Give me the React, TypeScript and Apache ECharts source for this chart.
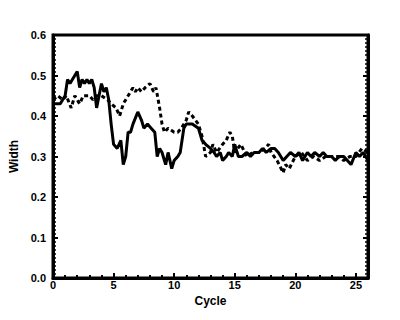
import React, { useEffect, useRef } from "react";
import * as echarts from "echarts";

const xTicks = [0, 5, 10, 15, 20, 25];
const yTicks = [0.0, 0.1, 0.2, 0.3, 0.4, 0.5, 0.6];

const solidSeries: [number, number][] = [
  [0, 0.43], [0.3, 0.43], [0.6, 0.43], [0.8, 0.44], [1.0, 0.45], [1.2, 0.49], [1.4, 0.48],
  [1.6, 0.49], [1.8, 0.50], [2.0, 0.51], [2.2, 0.47], [2.4, 0.49], [2.6, 0.48], [2.8, 0.49],
  [3.0, 0.48], [3.2, 0.49], [3.4, 0.47], [3.6, 0.42], [3.8, 0.45], [4.0, 0.48], [4.2, 0.46],
  [4.4, 0.47], [4.6, 0.44], [4.8, 0.38], [5.0, 0.33], [5.3, 0.32], [5.6, 0.34], [5.8, 0.28],
  [6.0, 0.30], [6.2, 0.36], [6.4, 0.36], [6.6, 0.38], [7.0, 0.41], [7.3, 0.39], [7.5, 0.37],
  [7.8, 0.38], [8.1, 0.37], [8.4, 0.36], [8.6, 0.30], [8.8, 0.32], [9.0, 0.31], [9.3, 0.28],
  [9.5, 0.31], [9.8, 0.27], [10.0, 0.29], [10.3, 0.30], [10.5, 0.31], [10.8, 0.37], [11.0, 0.38],
  [11.5, 0.38], [12.0, 0.37], [12.3, 0.34], [12.6, 0.33], [13.0, 0.32], [13.3, 0.31], [13.5, 0.30],
  [13.8, 0.31], [14.0, 0.29], [14.3, 0.30], [14.5, 0.31], [14.8, 0.30], [15.0, 0.33], [15.3, 0.30],
  [15.6, 0.30], [16.0, 0.31], [16.3, 0.30], [16.6, 0.31], [17.0, 0.31], [17.3, 0.32], [17.6, 0.31],
  [18.0, 0.32], [18.3, 0.32], [18.6, 0.31], [19.0, 0.29], [19.3, 0.30], [19.6, 0.31], [20.0, 0.30],
  [20.3, 0.31], [20.6, 0.29], [21.0, 0.31], [21.3, 0.30], [21.6, 0.31], [22.0, 0.30], [22.3, 0.31],
  [22.6, 0.30], [23.0, 0.30], [23.3, 0.29], [23.6, 0.30], [24.0, 0.30], [24.3, 0.29], [24.6, 0.28],
  [25.0, 0.31], [25.3, 0.30], [25.6, 0.31], [26.0, 0.29]
];

const dashedSeries: [number, number][] = [
  [0, 0.44], [0.4, 0.45], [0.8, 0.44], [1.1, 0.45], [1.5, 0.42], [1.8, 0.45], [2.2, 0.43],
  [2.5, 0.45], [3.0, 0.45], [3.3, 0.44], [3.6, 0.45], [4.0, 0.45], [4.5, 0.44], [4.8, 0.43],
  [5.2, 0.42], [5.5, 0.40], [5.8, 0.43], [6.2, 0.45], [6.6, 0.47], [6.8, 0.46], [7.0, 0.47],
  [7.3, 0.46], [7.6, 0.47], [8.0, 0.48], [8.3, 0.46], [8.5, 0.47], [8.8, 0.42], [9.0, 0.38],
  [9.2, 0.36], [9.5, 0.37], [10.0, 0.36], [10.3, 0.36], [10.6, 0.37], [11.0, 0.39], [11.2, 0.41],
  [11.5, 0.40], [12.0, 0.38], [12.3, 0.35], [12.6, 0.30], [13.0, 0.31], [13.2, 0.33], [13.5, 0.31],
  [14.0, 0.33], [14.3, 0.34], [14.6, 0.36], [14.8, 0.35], [15.0, 0.31], [15.5, 0.33], [16.0, 0.30],
  [16.5, 0.31], [17.0, 0.31], [17.5, 0.32], [17.8, 0.33], [18.0, 0.31], [18.5, 0.29], [19.0, 0.26],
  [19.2, 0.28], [19.5, 0.27], [20.0, 0.30], [20.5, 0.31], [21.0, 0.29], [21.5, 0.30], [22.0, 0.29],
  [22.5, 0.30], [23.0, 0.30], [23.5, 0.30], [24.0, 0.29], [24.5, 0.30], [25.0, 0.30], [25.5, 0.32],
  [26.0, 0.31]
];

export default function App() {
  const ref = useRef<HTMLDivElement>(null);
  useEffect(() => {
    if (!ref.current) return;
    const chart = echarts.init(ref.current, null, { renderer: "svg" });
    const font = "Liberation Sans, Arial, Helvetica, sans-serif";
    chart.setOption({
      animation: false,
      grid: {
        left: 45, right: 24, top: 27, bottom: 34,
        outerBoundsMode: "none", containLabel: false,
        show: true, borderColor: "#000", borderWidth: 3, backgroundColor: "transparent"
      },
      xAxis: {
        type: "value", min: 0, max: 26, interval: 5,
        name: "Cycle", nameLocation: "middle", nameGap: 13,
        nameTextStyle: { fontFamily: font, fontWeight: "bold", fontSize: 12, color: "#000" },
        axisLine: { show: true, lineStyle: { color: "#000", width: 3 } },
        axisTick: { show: true, inside: true, length: 5, lineStyle: { color: "#000", width: 2 } },
        minorTick: { show: true, splitNumber: 5, length: 3, lineStyle: { color: "#000", width: 2 } },
        axisLabel: {
          fontFamily: font, fontWeight: "bold", fontSize: 11, color: "#000", margin: 1,
          formatter: (v: number) => (xTicks.includes(v) ? String(v) : "")
        },
        splitLine: { show: false }
      },
      yAxis: [
        {
          type: "value", min: 0, max: 0.6, interval: 0.1,
          name: "Width", nameLocation: "middle", nameGap: 29,
          nameTextStyle: { fontFamily: font, fontWeight: "bold", fontSize: 12, color: "#000" },
          axisLine: { show: true, lineStyle: { color: "#000", width: 3 } },
          axisTick: { show: true, inside: true, length: 5, lineStyle: { color: "#000", width: 2 } },
          minorTick: { show: true, splitNumber: 10, length: 3, lineStyle: { color: "#000", width: 1.5 } },
          axisLabel: {
            fontFamily: font, fontWeight: "bold", fontSize: 11, color: "#000", margin: 7,
            formatter: (v: number) => {
              const t = yTicks.find((k) => Math.abs(k - v) < 1e-9);
              return t === undefined ? "" : t.toFixed(1);
            }
          },
          splitLine: { show: false }
        },
        {
          type: "value", min: 0, max: 0.6, interval: 0.1, position: "right",
          axisLine: { show: true, lineStyle: { color: "#000", width: 3 } },
          axisTick: { show: true, inside: true, length: 5, lineStyle: { color: "#000", width: 2 } },
          minorTick: { show: true, splitNumber: 10, length: 3, lineStyle: { color: "#000", width: 1.5 } },
          axisLabel: { show: false },
          splitLine: { show: false }
        }
      ],
      series: [
        {
          type: "line", data: dashedSeries, showSymbol: false, symbol: "none",
          lineStyle: { color: "#000", width: 3, type: [4, 3] }
        },
        {
          type: "line", data: solidSeries, showSymbol: false, symbol: "none",
          lineStyle: { color: "#000", width: 3 }
        }
      ]
    });
    return () => chart.dispose();
  }, []);
  return <div ref={ref} style={{ width: 384, height: 304 }} />;
}
